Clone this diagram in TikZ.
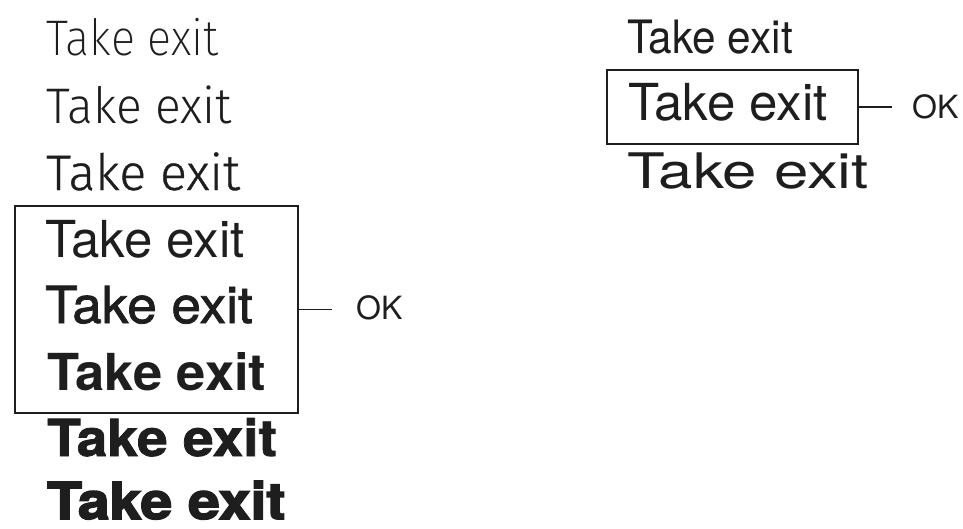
\documentclass[tikz,border=0pt]{standalone}
\usepackage{fontspec}
\setmainfont{TeX Gyre Heros}
\newfontfamily\wA{Fira Sans ExtraLight}[FakeStretch=0.9]
\newfontfamily\wB{Fira Sans Light}[FakeStretch=0.96]
\newfontfamily\wC{Fira Sans Light}[FakeBold=0.7]
\newfontfamily\wE{TeX Gyre Heros}[FakeBold=1.5,FakeStretch=1.04]
\newfontfamily\wF{TeX Gyre Heros}[FakeStretch=1.03]
\newfontfamily\wG{TeX Gyre Heros}[FakeBold=1.5,FakeStretch=1.08]
\newfontfamily\wH{TeX Gyre Heros}[FakeBold=3,FakeStretch=1.12]
\newfontfamily\wCond{TeX Gyre Heros}[FakeStretch=0.92]
\newfontfamily\wWide{TeX Gyre Heros}[FakeStretch=1.26]
\definecolor{ink}{HTML}{1E1E1E}
\newcommand{\specimen}[4]{%
 \node[word] ({#1}) at ({#2}) {\fontsize{#4}{#4}\selectfont #3Take exit};%
}
\begin{document}
\begin{tikzpicture}[x=1pt,y=-1pt,
  word/.style={anchor=base west,inner sep=0pt,text depth=0pt,text=ink},
  frame/.style={draw=ink,line width=1.5pt,inner sep=0pt},
  okmark/.style={anchor=base west,inner sep=0pt,text=ink,font=\fontsize{32}{32}\selectfont}]
  \useasboundingbox (0,0) rectangle (963,528);
  % weights
  \specimen{l1}{46,55}{\wA}{50pt}
  \specimen{l2}{46,123}{\wB}{50pt}
  \specimen{l3}{46,190}{\wC}{50pt}
  \specimen{l4}{45,257}{\normalfont}{51pt}
  \specimen{l5}{45,323}{\wE}{51pt}
  \specimen{l6}{47,390}{\wF\bfseries}{51pt}
  \specimen{l7}{47,456}{\wG\bfseries}{51pt}
  \specimen{l8}{47,519}{\wH\bfseries}{51pt}
  \node[frame,minimum width=283pt,minimum height=207pt] (boxL) at (156.5,309.5) {};
  \coordinate (tickL) at (332,309.5);
  \draw[ink,line width=1.5pt] (boxL.east) -- (tickL);
  \node[okmark] (okL) at (356,319) {OK};
  % widths
  \specimen{r1}{627,53}{\wCond}{46pt}
  \specimen{r2}{628,120}{\normalfont}{51pt}
  \specimen{r3}{627,188}{\wWide}{49pt}
  \node[frame,minimum width=251pt,minimum height=74pt] (boxR) at (732.5,107) {};
  \coordinate (tickR) at (892,107);
  \draw[ink,line width=1.5pt] (boxR.east) -- (tickR);
  \node[okmark] (okR) at (912,118.5) {OK};
\end{tikzpicture}
\end{document}
